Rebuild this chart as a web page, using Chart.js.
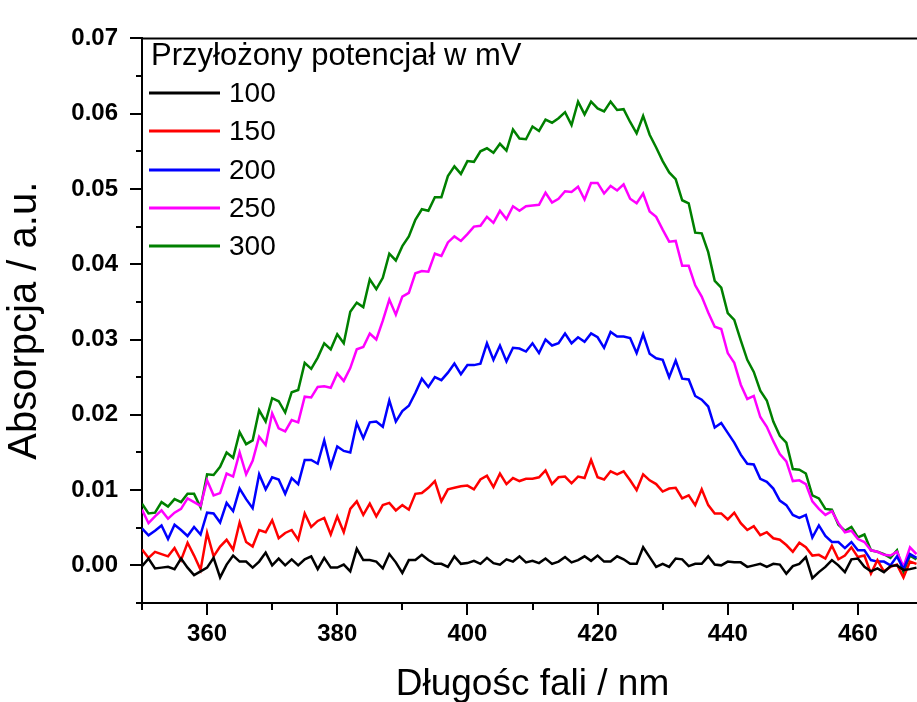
<!DOCTYPE html>
<html>
<head>
<meta charset="utf-8">
<script src="https://cdn.jsdelivr.net/npm/chart.js@4.4.1/dist/chart.umd.min.js"></script>
<style>
  html, body { margin: 0; padding: 0; background: #fff; }
  #wrap { width: 917px; height: 702px; overflow: hidden; }
</style>
</head>
<body>
<div id="wrap"><canvas id="spectra" width="940" height="702"></canvas></div>
<script>
const FONT = '"Liberation Sans", Arial, sans-serif';

const legendTitle = 'Przyłożony potencjał w mV';
const potentials = ['100', '150', '200', '250', '300'];
const lineColors = ['#000000', '#ff0000', '#0000ff', '#ff00ff', '#008000'];

// wavelength in nm, 1 nm step
const wavelengths = [
  350, 351, 352, 353, 354, 355, 356, 357, 358, 359,
  360, 361, 362, 363, 364, 365, 366, 367, 368, 369,
  370, 371, 372, 373, 374, 375, 376, 377, 378, 379,
  380, 381, 382, 383, 384, 385, 386, 387, 388, 389,
  390, 391, 392, 393, 394, 395, 396, 397, 398, 399,
  400, 401, 402, 403, 404, 405, 406, 407, 408, 409,
  410, 411, 412, 413, 414, 415, 416, 417, 418, 419,
  420, 421, 422, 423, 424, 425, 426, 427, 428, 429,
  430, 431, 432, 433, 434, 435, 436, 437, 438, 439,
  440, 441, 442, 443, 444, 445, 446, 447, 448, 449,
  450, 451, 452, 453, 454, 455, 456, 457, 458, 459,
  460, 461, 462, 463, 464, 465, 466, 467, 468, 469
];

const abs100 = [
  -0.0001, 0.0009, -0.0004, -0.0003, -0.0002, -0.0005, 0.0009, -0.0003, -0.0013, -0.0008,
  -0.0003, 0.0010, -0.0016, 0.0001, 0.0013, 0.0005, 0.0005, -0.0003, 0.0005, 0.0017,
  0.0000, 0.0009, 0.0000, 0.0008, 0.0000, 0.0008, 0.0012, -0.0005, 0.0010, -0.0003,
  -0.0003, 0.0001, -0.0008, 0.0022, 0.0007, 0.0007, 0.0005, -0.0004, 0.0015, 0.0004,
  -0.0010, 0.0007, 0.0007, 0.0014, 0.0007, 0.0002, 0.0002, -0.0002, 0.0012, 0.0002,
  0.0003, 0.0006, 0.0002, 0.0010, 0.0003, 0.0001, 0.0008, 0.0005, 0.0012, 0.0004,
  0.0006, 0.0003, 0.0009, 0.0002, 0.0005, 0.0011, 0.0004, 0.0007, 0.0012, 0.0006,
  0.0013, 0.0005, 0.0005, 0.0012, 0.0008, 0.0002, 0.0002, 0.0024, 0.0011, -0.0002,
  0.0002, -0.0002, 0.0009, 0.0008, -0.0001, 0.0002, 0.0002, 0.0012, 0.0001, 0.0000,
  0.0005, 0.0004, 0.0004, -0.0002, 0.0000, 0.0002, -0.0002, 0.0002, 0.0001, -0.0011,
  -0.0001, 0.0002, 0.0011, -0.0017, -0.0009, -0.0002, 0.0007, 0.0000, -0.0009, 0.0008,
  0.0009, -0.0002, -0.0008, -0.0004, -0.0009, -0.0001, 0.0000, -0.0006, -0.0005, -0.0003
];

const abs150 = [
  0.0021, 0.0010, 0.0018, 0.0015, 0.0012, 0.0023, 0.0007, 0.0030, 0.0013, -0.0006,
  0.0043, 0.0012, 0.0025, 0.0034, 0.0021, 0.0057, 0.0031, 0.0025, 0.0047, 0.0044,
  0.0060, 0.0036, 0.0043, 0.0047, 0.0034, 0.0069, 0.0051, 0.0059, 0.0063, 0.0041,
  0.0065, 0.0044, 0.0075, 0.0085, 0.0067, 0.0082, 0.0065, 0.0080, 0.0083, 0.0073,
  0.0080, 0.0074, 0.0095, 0.0096, 0.0103, 0.0112, 0.0085, 0.0101, 0.0103, 0.0105,
  0.0106, 0.0101, 0.0114, 0.0119, 0.0104, 0.0122, 0.0108, 0.0116, 0.0112, 0.0115,
  0.0115, 0.0117, 0.0126, 0.0108, 0.0117, 0.0118, 0.0109, 0.0118, 0.0116, 0.0140,
  0.0117, 0.0114, 0.0125, 0.0121, 0.0125, 0.0113, 0.0100, 0.0121, 0.0113, 0.0108,
  0.0098, 0.0102, 0.0103, 0.0089, 0.0093, 0.0080, 0.0101, 0.0080, 0.0069, 0.0069,
  0.0061, 0.0070, 0.0056, 0.0047, 0.0052, 0.0040, 0.0044, 0.0036, 0.0034, 0.0027,
  0.0018, 0.0030, 0.0024, 0.0013, 0.0014, 0.0009, 0.0026, 0.0008, 0.0013, 0.0024,
  0.0011, 0.0013, -0.0011, 0.0007, -0.0008, -0.0002, 0.0001, -0.0016, 0.0005, 0.0002
];

const abs200 = [
  0.0049, 0.0040, 0.0046, 0.0053, 0.0035, 0.0054, 0.0047, 0.0039, 0.0051, 0.0041,
  0.0070, 0.0069, 0.0057, 0.0083, 0.0072, 0.0102, 0.0088, 0.0076, 0.0121, 0.0101,
  0.0117, 0.0114, 0.0095, 0.0116, 0.0108, 0.0140, 0.0140, 0.0135, 0.0166, 0.0131,
  0.0158, 0.0152, 0.0150, 0.0189, 0.0169, 0.0190, 0.0191, 0.0184, 0.0219, 0.0191,
  0.0205, 0.0212, 0.0229, 0.0248, 0.0237, 0.0250, 0.0246, 0.0256, 0.0268, 0.0254,
  0.0266, 0.0266, 0.0268, 0.0295, 0.0273, 0.0292, 0.0271, 0.0289, 0.0288, 0.0284,
  0.0295, 0.0282, 0.0300, 0.0292, 0.0295, 0.0308, 0.0295, 0.0303, 0.0297, 0.0308,
  0.0303, 0.0289, 0.0310, 0.0304, 0.0304, 0.0302, 0.0282, 0.0307, 0.0281, 0.0275,
  0.0273, 0.0250, 0.0272, 0.0248, 0.0247, 0.0225, 0.0220, 0.0211, 0.0183, 0.0189,
  0.0176, 0.0163, 0.0147, 0.0135, 0.0134, 0.0115, 0.0111, 0.0102, 0.0086, 0.0080,
  0.0067, 0.0063, 0.0067, 0.0037, 0.0053, 0.0039, 0.0031, 0.0031, 0.0023, 0.0031,
  0.0020, 0.0020, 0.0007, 0.0005, 0.0005, 0.0000, 0.0012, -0.0005, 0.0015, 0.0010
];

const abs250 = [
  0.0074, 0.0056, 0.0065, 0.0073, 0.0062, 0.0070, 0.0075, 0.0089, 0.0084, 0.0079,
  0.0113, 0.0093, 0.0096, 0.0122, 0.0118, 0.0150, 0.0121, 0.0139, 0.0171, 0.0160,
  0.0202, 0.0182, 0.0178, 0.0193, 0.0190, 0.0224, 0.0223, 0.0237, 0.0238, 0.0236,
  0.0255, 0.0245, 0.0262, 0.0287, 0.0290, 0.0308, 0.0300, 0.0325, 0.0353, 0.0333,
  0.0357, 0.0362, 0.0388, 0.0391, 0.0390, 0.0414, 0.0411, 0.0429, 0.0437, 0.0431,
  0.0440, 0.0450, 0.0451, 0.0463, 0.0455, 0.0471, 0.0460, 0.0477, 0.0471, 0.0477,
  0.0478, 0.0479, 0.0495, 0.0482, 0.0487, 0.0497, 0.0496, 0.0503, 0.0486, 0.0508,
  0.0508, 0.0494, 0.0504, 0.0498, 0.0506, 0.0487, 0.0481, 0.0494, 0.0470, 0.0463,
  0.0446, 0.0430, 0.0431, 0.0398, 0.0398, 0.0372, 0.0357, 0.0336, 0.0317, 0.0314,
  0.0282, 0.0269, 0.0240, 0.0221, 0.0225, 0.0197, 0.0184, 0.0165, 0.0148, 0.0138,
  0.0112, 0.0113, 0.0108, 0.0085, 0.0075, 0.0067, 0.0072, 0.0056, 0.0044, 0.0046,
  0.0035, 0.0031, 0.0020, 0.0018, 0.0014, 0.0013, 0.0018, -0.0002, 0.0024, 0.0015
];

const abs300 = [
  0.0082, 0.0069, 0.0070, 0.0084, 0.0078, 0.0088, 0.0084, 0.0095, 0.0095, 0.0077,
  0.0121, 0.0120, 0.0131, 0.0150, 0.0143, 0.0177, 0.0161, 0.0166, 0.0206, 0.0191,
  0.0222, 0.0218, 0.0203, 0.0230, 0.0233, 0.0269, 0.0261, 0.0276, 0.0295, 0.0287,
  0.0307, 0.0295, 0.0337, 0.0349, 0.0343, 0.0380, 0.0367, 0.0382, 0.0414, 0.0405,
  0.0424, 0.0437, 0.0459, 0.0473, 0.0471, 0.0489, 0.0489, 0.0517, 0.0530, 0.0520,
  0.0537, 0.0536, 0.0550, 0.0554, 0.0548, 0.0560, 0.0551, 0.0579, 0.0567, 0.0566,
  0.0583, 0.0577, 0.0592, 0.0588, 0.0594, 0.0602, 0.0585, 0.0616, 0.0599, 0.0616,
  0.0607, 0.0603, 0.0616, 0.0605, 0.0606, 0.0589, 0.0574, 0.0597, 0.0572, 0.0555,
  0.0537, 0.0522, 0.0513, 0.0485, 0.0481, 0.0442, 0.0441, 0.0416, 0.0378, 0.0369,
  0.0335, 0.0326, 0.0299, 0.0273, 0.0257, 0.0232, 0.0219, 0.0191, 0.0172, 0.0163,
  0.0128, 0.0127, 0.0122, 0.0093, 0.0089, 0.0075, 0.0074, 0.0054, 0.0046, 0.0051,
  0.0037, 0.0041, 0.0020, 0.0018, 0.0015, 0.0010, 0.0020, -0.0009, 0.0013, 0.0008
];

const series = [abs100, abs150, abs200, abs250, abs300];

// outward tick marks (long = labelled, short = minor) and the top frame line
const axisTicks = {
  id: 'axisTicks',
  afterDraw(chart) {
    const { ctx, chartArea: a, scales: { x, y } } = chart;
    ctx.save();
    ctx.strokeStyle = '#000';
    ctx.lineWidth = 2;
    ctx.beginPath();
    y.ticks.forEach(t => {
      const py = Math.round(y.getPixelForValue(t.value));
      const len = t.label ? 12 : 6;
      ctx.moveTo(a.left - len, py);
      ctx.lineTo(a.left, py);
    });
    x.ticks.forEach(t => {
      const px = Math.round(x.getPixelForValue(t.value));
      const len = t.label ? 12 : 7;
      ctx.moveTo(px, a.bottom);
      ctx.lineTo(px, a.bottom + len);
    });
    ctx.moveTo(a.left, a.top);
    ctx.lineTo(a.right, a.top);
    ctx.stroke();
    ctx.restore();
  }
};

// legend block in the upper left corner of the plot
const seriesLegend = {
  id: 'seriesLegend',
  afterDraw(chart) {
    const ctx = chart.ctx;
    ctx.save();
    ctx.fillStyle = '#000';
    ctx.textAlign = 'left';
    ctx.textBaseline = 'alphabetic';
    ctx.font = '31px ' + FONT;
    ctx.fillText(legendTitle, 151, 65);
    ctx.font = '28px ' + FONT;
    ctx.textBaseline = 'middle';
    chart.data.datasets.forEach((ds, i) => {
      const ly = Math.round(93 + i * 38.3);
      ctx.strokeStyle = ds.borderColor;
      ctx.lineWidth = 3;
      ctx.beginPath();
      ctx.moveTo(149, ly);
      ctx.lineTo(220, ly);
      ctx.stroke();
      ctx.fillText(ds.label, 229, ly + 1);
    });
    ctx.restore();
  }
};

new Chart(document.getElementById('spectra'), {
  type: 'line',
  data: {
    datasets: series.map((vals, i) => ({
      label: potentials[i],
      data: wavelengths.map((w, j) => ({ x: w, y: vals[j] })),
      borderColor: lineColors[i],
      backgroundColor: lineColors[i],
      borderWidth: 2.5,
      pointRadius: 0,
      tension: 0,
      fill: false
    }))
  },
  options: {
    responsive: false,
    animation: false,
    layout: { padding: { left: 0, top: 25, right: 14, bottom: 0 } },
    plugins: {
      legend: { display: false },
      tooltip: { enabled: false }
    },
    scales: {
      x: {
        type: 'linear',
        min: 350,
        max: 470,
        afterFit: s => { s.height = 99; },
        grid: { display: false, drawTicks: false },
        border: { display: true, color: '#000', width: 2 },
        ticks: {
          stepSize: 10,
          autoSkip: false,
          maxRotation: 0,
          padding: 17,
          color: '#000',
          font: { family: FONT, size: 24, weight: 'bold' },
          callback: v => (v % 20 === 0 ? String(v) : '')
        },
        title: {
          display: true,
          text: 'Długośc fali / nm',
          color: '#000',
          font: { family: FONT, size: 37, lineHeight: 0.95 },
          padding: 0
        }
      },
      y: {
        min: -0.005,
        max: 0.07,
        afterFit: s => { s.width = 142; },
        grid: { display: false, drawTicks: false },
        border: { display: true, color: '#000', width: 2 },
        ticks: {
          stepSize: 0.005,
          autoSkip: false,
          padding: 24,
          color: '#000',
          font: { family: FONT, size: 24, weight: 'bold' },
          callback: v => {
            const r = Math.round(v * 1000);
            return r % 10 === 0 ? (r / 1000).toFixed(2) : '';
          }
        },
        title: {
          display: true,
          text: 'Absorpcja / a.u.',
          color: '#000',
          font: { family: FONT, size: 40, lineHeight: 1.1 },
          padding: { top: 3, bottom: 0 }
        }
      }
    }
  },
  plugins: [axisTicks, seriesLegend]
});
</script>
</body>
</html>
